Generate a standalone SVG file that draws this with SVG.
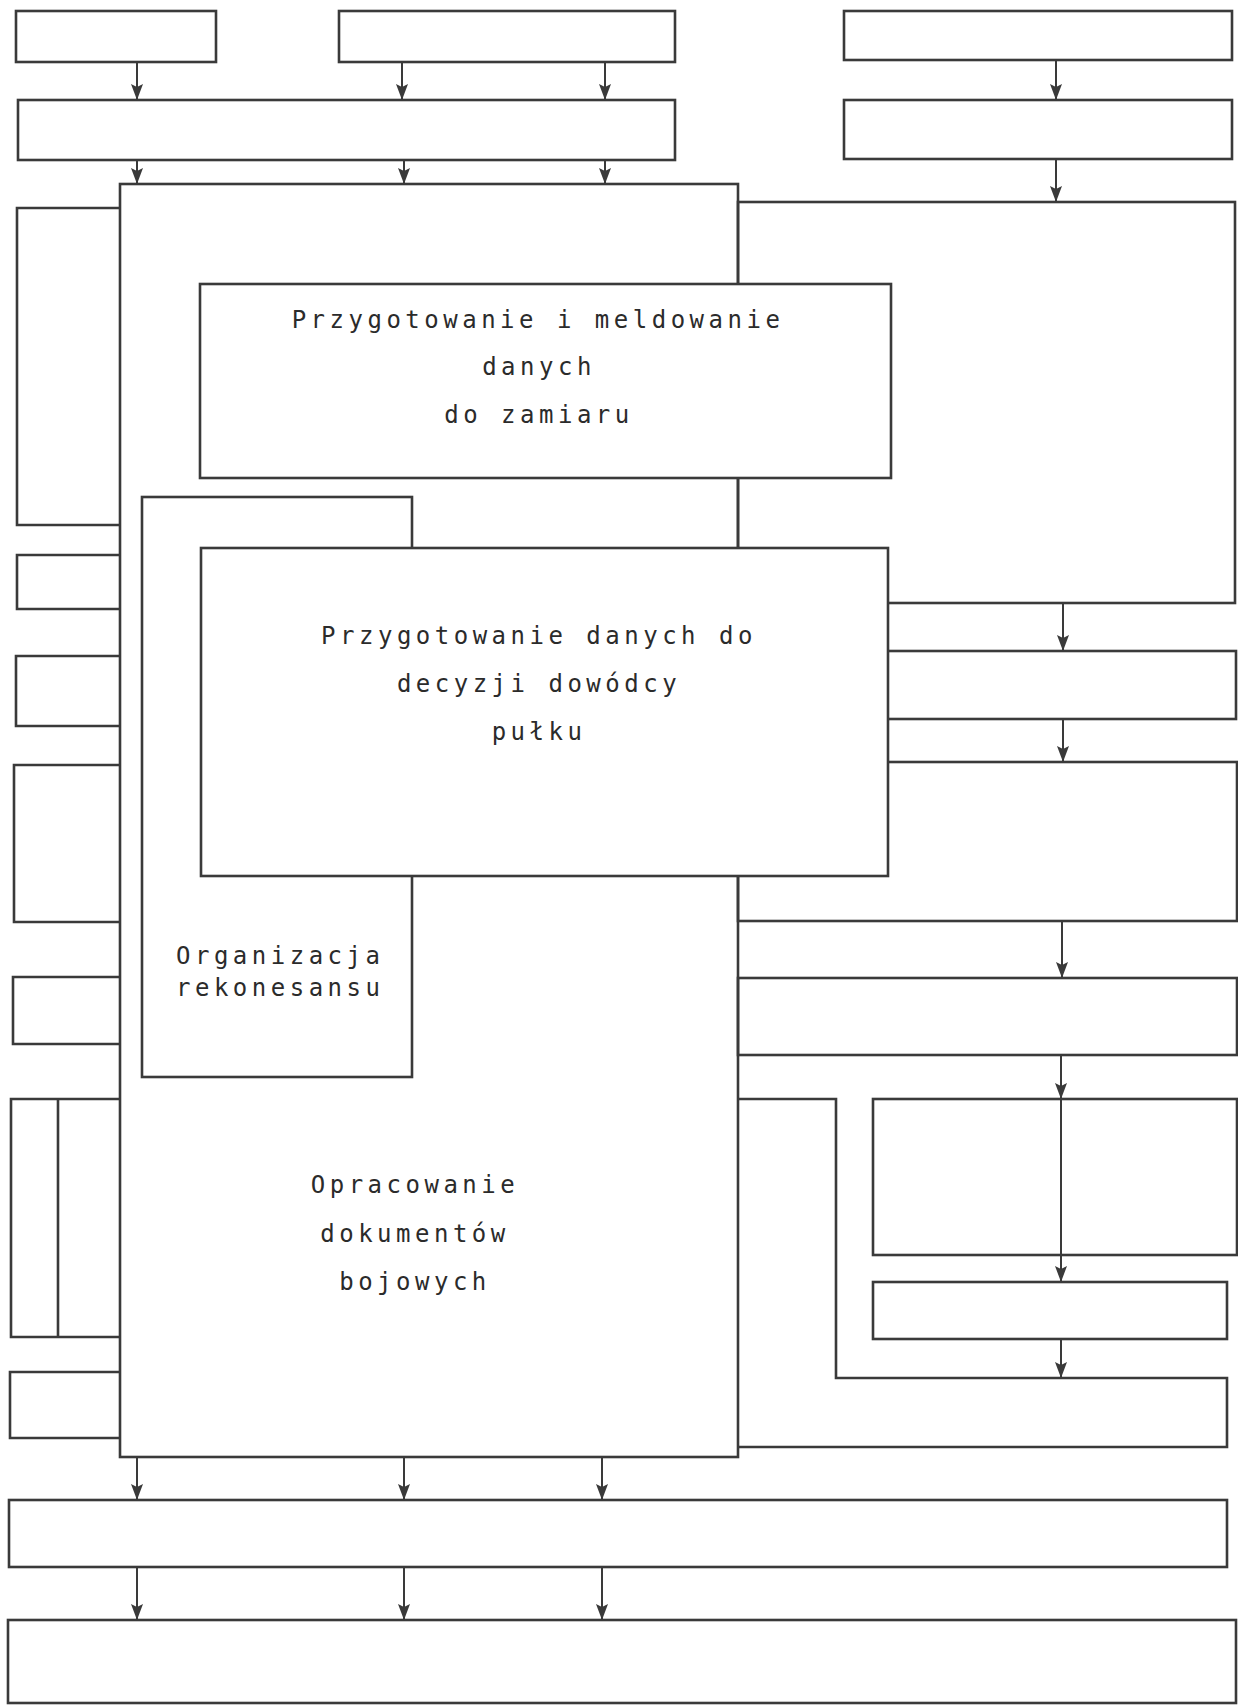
<svg xmlns="http://www.w3.org/2000/svg" width="1238" height="1706" viewBox="0 0 1238 1706">
<defs>
<style>
.b{fill:none;stroke:#3a3a3a;stroke-width:2.6}
.w{fill:#fff;stroke:#3a3a3a;stroke-width:2.6}
.c{fill:none;stroke:#3a3a3a;stroke-width:2;marker-end:url(#ah)}
.t{font-family:"DejaVu Sans Mono","Liberation Mono",monospace;font-size:24px;letter-spacing:4.5px;fill:#2b2b2b}
</style>
<marker id="ah" viewBox="0 0 16 12" markerWidth="16" markerHeight="12" refX="16" refY="6" orient="auto" markerUnits="userSpaceOnUse">
<path d="M0,0 L16,6 L0,12 L3,6 z" fill="#3a3a3a"/>
</marker>
</defs>
<rect width="1238" height="1706" fill="#fff"/>

<g id="main"><rect class="b" x="120" y="184" width="618" height="1273"/></g>
<g id="r1"><rect class="b" x="738" y="202" width="497" height="401"/></g>
<g id="r2"><rect class="b" x="738" y="651" width="498" height="68"/></g>
<g id="r3"><rect class="b" x="738" y="762" width="499" height="159"/></g>
<g id="r4"><rect class="b" x="738" y="978" width="499" height="77"/></g>
<g id="r5"><path class="b" d="M738,1099 H836 V1378 H1227 V1447 H738"/></g>
<g id="r6a"><rect class="b" x="873" y="1099" width="364" height="156"/></g>
<g id="r6b"><rect class="b" x="873" y="1282" width="354" height="57"/></g>

<g id="top-a"><rect class="b" x="16" y="11" width="200" height="51"/></g>
<g id="top-b"><rect class="b" x="339" y="11" width="336" height="51"/></g>
<g id="top-c"><rect class="b" x="844" y="11" width="388" height="49"/></g>
<g id="row2-left"><rect class="b" x="18" y="100" width="657" height="60"/></g>
<g id="row2-right"><rect class="b" x="844" y="100" width="388" height="59"/></g>

<g id="l1"><path class="b" d="M120,208 H17 V525 H120"/></g>
<g id="l2"><path class="b" d="M120,555 H17 V609 H120"/></g>
<g id="l3"><path class="b" d="M120,656 H16 V726 H120"/></g>
<g id="l4"><path class="b" d="M120,765 H14 V922 H120"/></g>
<g id="l5"><path class="b" d="M120,977 H13 V1044 H120"/></g>
<g id="l6"><path class="b" d="M120,1099 H11 V1337 H120 M58,1099 V1337"/></g>
<g id="l7"><path class="b" d="M120,1372 H10 V1438 H120"/></g>

<g id="organizacja">
<rect class="w" x="142" y="497" width="270" height="580"/>
<text class="t" x="176" y="964">Organizacja</text>
<text class="t" x="176" y="996">rekonesansu</text>
</g>
<g id="meldowanie">
<rect class="w" x="200" y="284" width="691" height="194"/>
<text class="t" x="538" y="328" text-anchor="middle">Przygotowanie i meldowanie</text>
<text class="t" x="539" y="375" text-anchor="middle">danych</text>
<text class="t" x="539" y="423" text-anchor="middle">do zamiaru</text>
</g>
<g id="decyzja">
<rect class="w" x="201" y="548" width="687" height="328"/>
<text class="t" x="539" y="644" text-anchor="middle">Przygotowanie danych do</text>
<text class="t" x="539" y="692" text-anchor="middle">decyzji dowódcy</text>
<text class="t" x="539" y="740" text-anchor="middle">pułku</text>
</g>
<g id="opracowanie">
<text class="t" x="415" y="1193" text-anchor="middle">Opracowanie</text>
<text class="t" x="415" y="1242" text-anchor="middle">dokumentów</text>
<text class="t" x="415" y="1290" text-anchor="middle">bojowych</text>
</g>

<g id="bottom-1"><rect class="b" x="9" y="1500" width="1218" height="67"/></g>
<g id="bottom-2"><rect class="b" x="8" y="1620" width="1228" height="83"/></g>

<g id="connectors">
<line class="c" x1="137" y1="62" x2="137" y2="100"/>
<line class="c" x1="402" y1="62" x2="402" y2="100"/>
<line class="c" x1="605" y1="62" x2="605" y2="100"/>
<line class="c" x1="1056" y1="60" x2="1056" y2="100"/>
<line class="c" x1="137" y1="160" x2="137" y2="184"/>
<line class="c" x1="404" y1="160" x2="404" y2="184"/>
<line class="c" x1="605" y1="160" x2="605" y2="184"/>
<line class="c" x1="1056" y1="159" x2="1056" y2="202"/>
<line class="c" x1="1063" y1="603" x2="1063" y2="651"/>
<line class="c" x1="1063" y1="719" x2="1063" y2="762"/>
<line class="c" x1="1062" y1="921" x2="1062" y2="978"/>
<line class="c" x1="1061" y1="1055" x2="1061" y2="1099"/>
<line class="c" x1="1061" y1="1099" x2="1061" y2="1282"/>
<line class="c" x1="1061" y1="1339" x2="1061" y2="1378"/>
<line class="c" x1="137" y1="1457" x2="137" y2="1500"/>
<line class="c" x1="404" y1="1457" x2="404" y2="1500"/>
<line class="c" x1="602" y1="1457" x2="602" y2="1500"/>
<line class="c" x1="137" y1="1567" x2="137" y2="1620"/>
<line class="c" x1="404" y1="1567" x2="404" y2="1620"/>
<line class="c" x1="602" y1="1567" x2="602" y2="1620"/>
</g>
</svg>
